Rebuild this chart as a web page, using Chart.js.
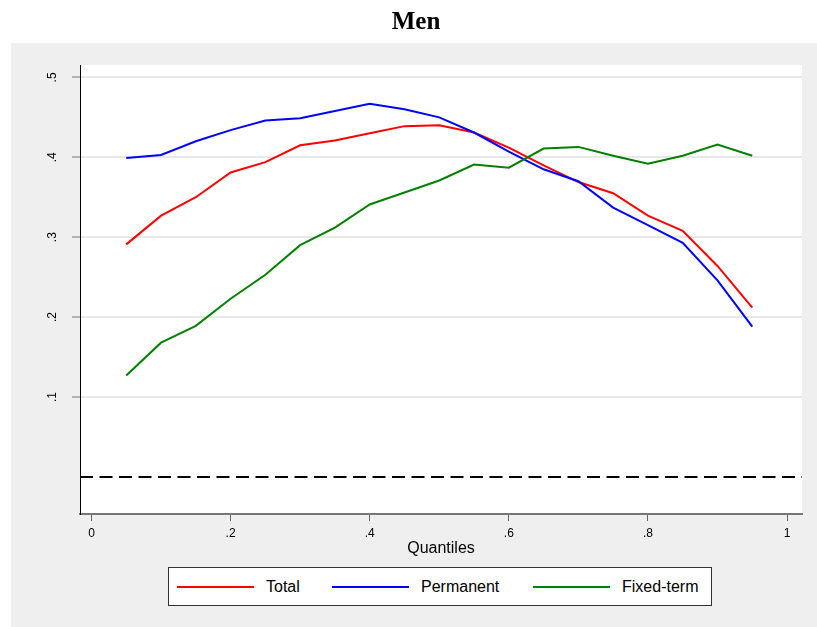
<!DOCTYPE html>
<html>
<head>
<title>Men</title>
<script src="https://cdn.jsdelivr.net/npm/chart.js@4/dist/chart.umd.min.js"></script>
<style>
    body { margin: 0; background: #fff; font-family: "Liberation Sans", Arial, sans-serif; }
    #wrap { position: relative; width: 817px; height: 627px; }
    #legend { position: absolute; left: 168px; top: 567px; width: 542px; height: 37px; border: 1px solid #333; background: #fff; }
    .key { position: absolute; top: 0; height: 38px; display: flex; align-items: center; font-size: 16px; color: #000; white-space: nowrap; }
    .key .ln { display: inline-block; width: 77px; height: 2px; margin-right: 12px; }
</style>
</head>
<body>
<div id="wrap">
    <canvas id="stage" width="817" height="627"></canvas>
    <div id="legend"></div>
</div>
<script>
    // quantile grid and estimates
    var quantiles = [0.05, 0.10, 0.15, 0.20, 0.25, 0.30, 0.35, 0.40, 0.45, 0.50,
                     0.55, 0.60, 0.65, 0.70, 0.75, 0.80, 0.85, 0.90, 0.95];
    var total     = [0.291, 0.327, 0.350, 0.381, 0.394, 0.415, 0.421, 0.430, 0.439, 0.440,
                     0.431, 0.412, 0.390, 0.369, 0.355, 0.327, 0.308, 0.264, 0.212];
    var permanent = [0.399, 0.403, 0.420, 0.434, 0.446, 0.449, 0.458, 0.467, 0.460, 0.450,
                     0.431, 0.407, 0.385, 0.370, 0.337, 0.315, 0.293, 0.246, 0.188];
    var fixedTerm = [0.127, 0.168, 0.189, 0.223, 0.253, 0.290, 0.312, 0.341, 0.356, 0.371,
                     0.391, 0.387, 0.411, 0.413, 0.402, 0.392, 0.402, 0.416, 0.402];

    var seriesNames  = ['Total', 'Permanent', 'Fixed-term'];
    var seriesColors = ['#ff0000', '#0000ff', '#008000'];

    var xTicks = [0, 0.2, 0.4, 0.6, 0.8, 1];
    var xTickLabels = ['0', '.2', '.4', '.6', '.8', '1'];
    var yTicks = [0.1, 0.2, 0.3, 0.4, 0.5];
    var yTickLabels = ['.1', '.2', '.3', '.4', '.5'];

    function points(vals) {
        return quantiles.map(function (q, i) { return {x: q, y: vals[i]}; });
    }

    // gray outer region + white plot region
    var background = {
        id: 'background',
        beforeDraw: function (chart) {
            var ctx = chart.ctx, a = chart.chartArea;
            ctx.save();
            ctx.fillStyle = '#efefef';
            ctx.fillRect(11, 43, chart.width - 11, chart.height - 43);
            ctx.fillStyle = '#ffffff';
            ctx.fillRect(a.left, a.top, a.right - a.left, a.bottom - a.top);
            ctx.restore();
        }
    };

    // dashed reference line at zero
    var zeroLine = {
        id: 'zeroLine',
        beforeDatasetsDraw: function (chart) {
            var ctx = chart.ctx, a = chart.chartArea;
            var y = chart.scales.y.getPixelForValue(0);
            ctx.save();
            ctx.strokeStyle = '#000';
            ctx.lineWidth = 2;
            ctx.setLineDash([13, 6.5]);
            ctx.beginPath();
            ctx.moveTo(a.left, y);
            ctx.lineTo(a.right, y);
            ctx.stroke();
            ctx.restore();
        }
    };

    var allSeries = [total, permanent, fixedTerm];
    var datasets = allSeries.map(function (vals, i) {
        return {
            label: seriesNames[i],
            data: points(vals),
            borderColor: seriesColors[i],
            backgroundColor: seriesColors[i],
            borderWidth: 2,
            pointRadius: 0,
            tension: 0,
            fill: false,
            order: 3 - i
        };
    });

    var canvas = document.getElementById('stage');
    var chart = new Chart(canvas, {
        type: 'line',
        data: { datasets: datasets },
        options: {
            responsive: false,
            animation: false,
            devicePixelRatio: 1,
            layout: { padding: { left: 30, right: 15, top: 0, bottom: 69 } },
            plugins: {
                legend: { display: false },
                tooltip: { enabled: false },
                title: {
                    display: true,
                    text: 'Men',
                    color: '#000',
                    font: { family: '"Liberation Serif", serif', size: 25, weight: 'bold', lineHeight: 1.2 },
                    padding: { top: 8, bottom: 27 }
                }
            },
            scales: {
                x: {
                    type: 'linear',
                    min: -0.0165,
                    max: 1.0215,
                    afterBuildTicks: function (s) { s.ticks = xTicks.map(function (v) { return {value: v}; }); },
                    afterFit: function (s) { s.height = 44; },
                    ticks: {
                        callback: function (v) { return xTickLabels[xTicks.indexOf(v)]; },
                        maxRotation: 0,
                        padding: 5,
                        color: '#000',
                        font: { family: '"Liberation Sans", Arial, sans-serif', size: 12 }
                    },
                    grid: { drawOnChartArea: false, tickLength: 7, tickColor: '#666', tickWidth: 1 },
                    border: { color: '#777', width: 2 },
                    title: {
                        display: true,
                        text: 'Quantiles',
                        color: '#000',
                        font: { family: '"Liberation Sans", Arial, sans-serif', size: 16 },
                        padding: { top: 0, bottom: 0 }
                    }
                },
                y: {
                    min: -0.0464,
                    max: 0.5155,
                    afterBuildTicks: function (s) { s.ticks = yTicks.map(function (v) { return {value: v}; }); },
                    afterFit: function (s) { s.width = 50; },
                    ticks: {
                        callback: function (v) { return yTickLabels[yTicks.indexOf(v)]; },
                        minRotation: 90,
                        maxRotation: 90,
                        crossAlign: 'center',
                        padding: 14,
                        color: '#000',
                        font: { family: '"Liberation Sans", Arial, sans-serif', size: 12 }
                    },
                    grid: { color: '#e8e8e8', lineWidth: 2, tickColor: '#777', tickLength: 8, tickWidth: 1 },
                    border: { color: '#000', width: 1 }
                }
            }
        },
        plugins: [background, zeroLine]
    });

    // legend box under the plot
    var keyLeft = [8, 163, 364];
    var legend = document.getElementById('legend');
    seriesNames.forEach(function (name, i) {
        var key = document.createElement('div');
        key.className = 'key';
        key.style.left = keyLeft[i] + 'px';
        key.innerHTML = '<span class="ln" style="background:' + seriesColors[i] + '"></span>' + name;
        legend.appendChild(key);
    });
</script>
</body>
</html>
